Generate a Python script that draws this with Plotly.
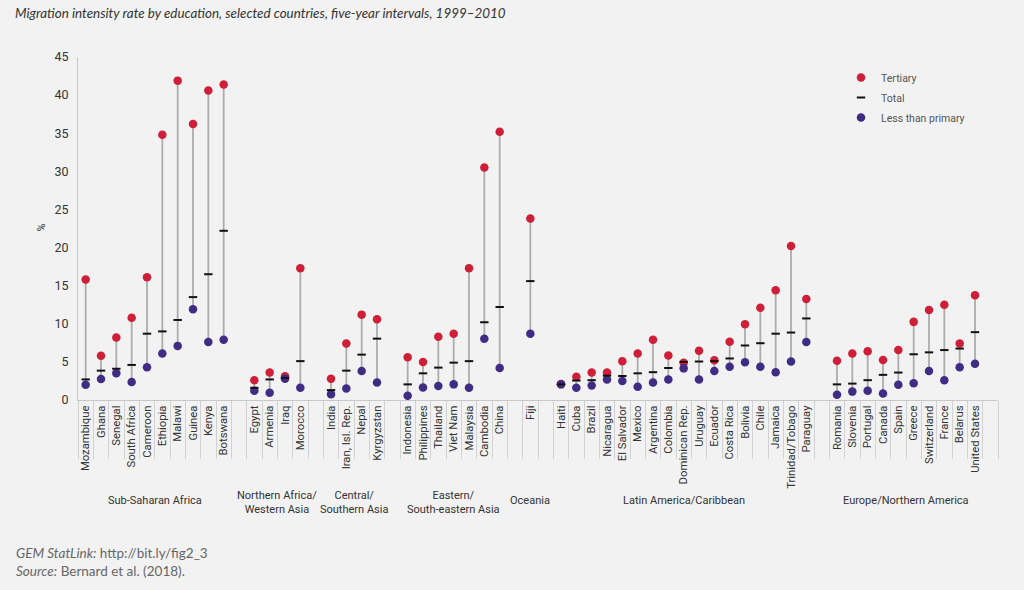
import plotly.graph_objects as go

# ---------------- data ----------------
regions = ["Sub-Saharan Africa", "Northern Africa/<br>Western Asia", "Central/<br>Southern Asia",
           "Eastern/<br>South-eastern Asia", "Oceania", "Latin America/Caribbean",
           "Europe/Northern America"]
region_sizes = [10, 4, 4, 7, 1, 17, 10]

countries = [
    "Mozambique", "Ghana", "Senegal", "South Africa", "Cameroon", "Ethiopia", "Malawi", "Guinea", "Kenya", "Botswana",
    "Egypt", "Armenia", "Iraq", "Morocco",
    "India", "Iran, Isl. Rep.", "Nepal", "Kyrgyzstan",
    "Indonesia", "Philippines", "Thailand", "Viet Nam", "Malaysia", "Cambodia", "China",
    "Fiji",
    "Haiti", "Cuba", "Brazil", "Nicaragua", "El Salvador", "Mexico", "Argentina", "Colombia", "Dominican Rep.",
    "Uruguay", "Ecuador", "Costa Rica", "Bolivia", "Chile", "Jamaica", "Trinidad/Tobago", "Paraguay",
    "Romania", "Slovenia", "Portugal", "Canada", "Spain", "Greece", "Switzerland", "France", "Belarus", "United States",
]

tertiary = [
    15.8, 5.8, 8.2, 10.8, 16.1, 34.8, 41.9, 36.2, 40.6, 41.4,
    2.6, 3.6, 3.1, 17.3,
    2.8, 7.4, 11.2, 10.6,
    5.6, 5.0, 8.3, 8.7, 17.3, 30.5, 35.2,
    23.8,
    2.1, 3.05, 3.6, 3.6, 5.1, 6.1, 7.9, 5.85, 4.9,
    6.45, 5.2, 7.65, 9.95, 12.1, 14.4, 20.2, 13.25,
    5.15, 6.1, 6.4, 5.25, 6.55, 10.25, 11.8, 12.5, 7.4, 13.75,
]

total = [
    2.7, 3.85, 4.1, 4.6, 8.7, 9.0, 10.5, 13.5, 16.5, 22.2,
    1.6, 2.7, 2.9, 5.1,
    1.3, 3.85, 5.95, 8.05,
    2.05, 3.5, 4.25, 4.9, 5.1, 10.2, 12.2,
    15.6,
    2.05, 2.55, 2.6, 3.2, 3.15, 3.5, 3.65, 4.2, 5.0,
    5.05, 5.1, 5.45, 7.15, 7.45, 8.7, 8.85, 10.7,
    2.05, 2.15, 2.6, 3.3, 3.6, 6.0, 6.25, 6.55, 6.75, 8.9,
]

less_than_primary = [
    2.0, 2.75, 3.5, 2.35, 4.3, 6.1, 7.1, 11.9, 7.6, 7.9,
    1.2, 0.95, 2.8, 1.6,
    0.75, 1.5, 3.8, 2.3,
    0.55, 1.65, 1.85, 2.05, 1.6, 8.05, 4.2,
    8.7,
    2.05, 1.6, 1.9, 2.7, 2.5, 1.75, 2.3, 2.7, 4.15,
    2.7, 3.8, 4.35, 4.95, 4.35, 3.65, 5.05, 7.6,
    0.7, 1.1, 1.2, 0.85, 2.0, 2.2, 3.8, 2.6, 4.3, 4.75,
]

y_ticks = [0, 5, 10, 15, 20, 25, 30, 35, 40, 45]

# ---------------- layout helpers ----------------
W, H = 1024, 590
L, R, T, B = 78, 26, 57, 190
PW, PH = W - L - R, H - T - B

def px_x(px):
    return (px - L) / PW

def px_y(py):
    return (H - B - py) / PH

# slot positions with one empty slot between regions
xpos = []
region_centers = []
slot = 0
for n in region_sizes:
    start = slot
    for _ in range(n):
        xpos.append(slot)
        slot += 1
    region_centers.append((start + slot - 1) / 2)
    slot += 1
n_slots = slot - 1

# connector line coordinates
lx, ly = [], []
for x, t, p in zip(xpos, tertiary, less_than_primary):
    lx += [x, x, None]
    ly += [t, p, None]

RED = "#cf1e38"
PURPLE = "#3e2c85"
FONT = "Roboto, Arial, sans-serif"
FOOT = "Lato, Open Sans, sans-serif"

fig = go.Figure()
fig.add_trace(go.Scatter(x=lx, y=ly, mode="lines", line=dict(color="#acacac", width=1.8),
                         showlegend=False, hoverinfo="skip"))
fig.add_trace(go.Scatter(x=xpos, y=tertiary, mode="markers", name="Tertiary", legendrank=1, legendgroup="a",
                         marker=dict(color=RED, size=8.5, line=dict(width=0))))
fig.add_trace(go.Scatter(x=xpos, y=less_than_primary, mode="markers", name="Less than primary", legendrank=3,
                         legendgroup="c", marker=dict(color=PURPLE, size=8.5, line=dict(width=0))))
fig.add_trace(go.Scatter(x=xpos, y=total, mode="markers", name="Total", legendrank=2, legendgroup="b",
                         marker=dict(symbol="line-ew", color="#111111", size=6,
                                     line=dict(width=2, color="#111111"))))

annotations = []
# group labels
for c, name in zip(region_centers, regions):
    yc = 502 if "<br>" in name else 500
    annotations.append(dict(x=c, xref="x", y=px_y(yc), yref="paper", text=name, showarrow=False,
                            xanchor="center", yanchor="middle", align="center",
                            font=dict(family=FONT, size=11, color="#333333")))
# y-axis title
annotations.append(dict(x=px_x(33), y=px_y(228), xref="paper", yref="paper", text="%", textangle=-90,
                        showarrow=False, font=dict(family=FONT, size=11, color="#333333")))
# title
annotations.append(dict(x=px_x(13), y=px_y(13), xref="paper", yref="paper", xanchor="left", yanchor="middle",
                        text="<i>Migration intensity rate by education, selected countries, five-year intervals, 1999–2010</i>",
                        showarrow=False, font=dict(family=FOOT, size=13.4, color="#333333")))
# footnotes
annotations.append(dict(x=px_x(14), y=px_y(553), xref="paper", yref="paper", xanchor="left", yanchor="middle",
                        text="<i>GEM StatLink:</i> http://bit.ly/fig2_3", showarrow=False,
                        font=dict(family=FOOT, size=13.5, color="#666666")))
annotations.append(dict(x=px_x(14), y=px_y(571), xref="paper", yref="paper", xanchor="left", yanchor="middle",
                        text="<i>Source:</i> Bernard et al. (2018).", showarrow=False,
                        font=dict(family=FOOT, size=13.5, color="#666666")))

fig.update_layout(
    width=W, height=H,
    margin=dict(l=L, r=R, t=T, b=B, autoexpand=False),
    paper_bgcolor="#f2f2f2", plot_bgcolor="#f2f2f2",
    font=dict(family=FONT, size=12, color="#333333"),
    showlegend=True,
    legend=dict(x=px_x(841), y=px_y(63), xanchor="left", yanchor="top", bgcolor="rgba(0,0,0,0)",
                font=dict(family=FONT, size=10.5, color="#555555"), itemwidth=30, tracegroupgap=1),
    annotations=annotations,
)
fig.update_xaxes(
    range=[-0.5, n_slots + 0.5], tickmode="array", tickvals=xpos, ticktext=countries,
    tickangle=-90, ticks="", showgrid=False, zeroline=False,
    showline=True, linecolor="#c8c8c8", linewidth=1,
    tickfont=dict(family=FONT, size=11.3, color="#333333"),
    minor=dict(tick0=-0.5, dtick=1, ticks="outside", ticklen=58, tickcolor="#d2d2d2", tickwidth=1, showgrid=False),
)
fig.update_yaxes(
    range=[0, 45], tickmode="array", tickvals=y_ticks, ticks="", showgrid=False, zeroline=False,
    showline=True, linecolor="#c8c8c8", linewidth=1, ticklabelstandoff=6,
    tickfont=dict(family=FONT, size=12.5, color="#333333"),
)

fig.write_html("out.html", config={"displayModeBar": False},
               post_script="document.body.style.margin='0';")
